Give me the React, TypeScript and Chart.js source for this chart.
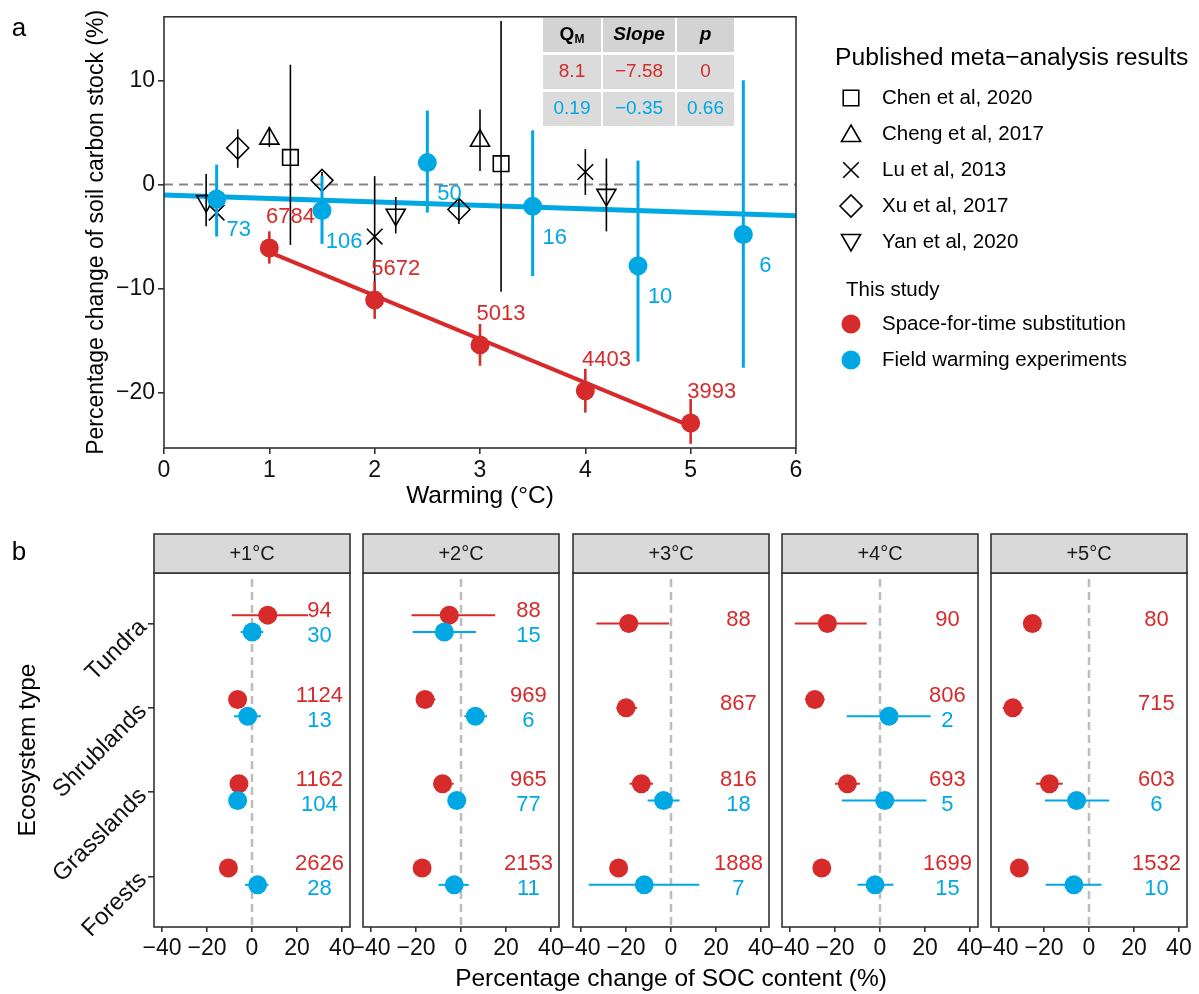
import React, { useEffect, useRef } from 'react';
import { Chart, registerables } from 'chart.js';
import { drawPoint } from 'chart.js/helpers';

Chart.register(...registerables);

const FONT = '"Liberation Sans", Arial, Helvetica, sans-serif';
const RED = '#d62a2b';
const BLUE = '#00a8e3';
const INK = '#111111';

// ---------------- Panel a data ----------------
const sftWarming = [1, 2, 3, 4, 5];
const sftMean = [-6.1, -11.1, -15.4, -19.8, -22.9];
const sftLow = [-7.6, -12.9, -17.4, -21.9, -24.9];
const sftHigh = [-4.5, -9.3, -13.4, -17.7, -20.6];
const sftCount = [6784, 5672, 5013, 4403, 3993];
const sftFitX = [1, 5];
const sftFitY = [-6.5, -23.2];

const fweWarming = [0.5, 1.5, 2.5, 3.5, 4.5, 5.5];
const fweMean = [-1.4, -2.5, 2.1, -2.1, -7.8, -4.8];
const fweLow = [-5.0, -5.7, -2.7, -8.8, -17.0, -17.6];
const fweHigh = [1.9, 0.8, 7.1, 5.2, 2.3, 10.0];
const fweCount = [73, 106, 50, 16, 10, 6];
const fweFitX = [0, 6];
const fweFitY = [-1.0, -3.0];

const studyNames = ['Chen et al, 2020', 'Cheng et al, 2017', 'Lu et al, 2013', 'Xu et al, 2017', 'Yan et al, 2020'];
const chenX = [1.2, 3.2];
const chenY = [2.6, 2.0];
const chenLow = [-5.8, -10.3];
const chenHigh = [11.5, 15.7];
const chengX = [1.0, 3.0];
const chengY = [4.4, 4.2];
const chengLow = [3.6, 1.3];
const chengHigh = [5.5, 7.2];
const luX = [0.5, 2.0, 4.0];
const luY = [-2.7, -5.0, 1.2];
const luLow = [-3.6, -10.6, -1.0];
const luHigh = [-1.8, 0.8, 3.4];
const xuX = [0.7, 1.5, 2.8];
const xuY = [3.5, 0.4, -2.4];
const xuLow = [1.6, -0.4, -3.8];
const xuHigh = [5.3, 1.2, -1.5];
const yanX = [0.4, 2.2, 4.2];
const yanY = [-1.6, -2.9, -1.0];
const yanLow = [-4.0, -4.7, -4.5];
const yanHigh = [1.0, -1.2, 2.5];

const tableHeader = ['Q', 'Slope', 'p'];
const tableSft = ['8.1', '\u22127.58', '0'];
const tableFwe = ['0.19', '\u22120.35', '0.66'];

const warmingTicks = [0, 1, 2, 3, 4, 5, 6];
const stockTicks = [-20, -10, 0, 10];

// ---------------- Panel b data ----------------
const ecosystems = ['Tundra', 'Shrublands', 'Grasslands', 'Forests'];
const warmingLevels = ['+1\u00b0C', '+2\u00b0C', '+3\u00b0C', '+4\u00b0C', '+5\u00b0C'];
const socTicks = [-40, -20, 0, 20, 40];

const sftSoc = [
  [7.0, -6.4, -5.8, -10.5],
  [-5.2, -16.0, -8.2, -17.3],
  [-18.8, -20.0, -13.2, -23.3],
  [-23.4, -29.0, -14.5, -25.9],
  [-25.2, -33.9, -17.6, -31.0],
];
const sftSocLow = [
  [-9.0, -7.8, -7.2, -11.8],
  [-22.0, -20.0, -12.3, -18.8],
  [-33.2, -24.3, -18.4, -24.8],
  [-37.9, -33.3, -20.0, -27.2],
  [-26.6, -38.4, -23.6, -32.4],
];
const sftSocHigh = [
  [25.0, -5.0, -4.4, -9.2],
  [15.2, -11.4, -3.3, -15.8],
  [-0.8, -15.1, -8.0, -21.8],
  [-5.9, -24.6, -8.9, -24.6],
  [-23.8, -29.2, -11.7, -29.6],
];
const sftSocN = [
  [94, 1124, 1162, 2626],
  [88, 969, 965, 2153],
  [88, 867, 816, 1888],
  [90, 806, 693, 1699],
  [80, 715, 603, 1532],
];
const fweSoc = [
  [0.1, -1.9, -6.4, 2.5],
  [-7.4, 6.4, -1.9, -3.0],
  [null, null, -3.3, -11.9],
  [null, 4.0, 2.1, -2.2],
  [null, null, -5.5, -6.7],
];
const fweSocLow = [
  [-5.0, -8.0, -7.6, -3.1],
  [-21.5, 1.5, -3.2, -10.0],
  [null, null, -10.4, -36.6],
  [null, -14.8, -17.0, -10.0],
  [null, null, -19.6, -19.3],
];
const fweSocHigh = [
  [5.0, 3.9, -5.2, 7.3],
  [6.7, 11.6, -0.6, 3.4],
  [null, null, 3.8, 12.6],
  [null, 22.5, 20.7, 6.0],
  [null, null, 9.0, 5.5],
];
const fweSocN = [
  [30, 13, 104, 28],
  [15, 6, 77, 11],
  [null, null, 18, 7],
  [null, 2, 5, 15],
  [null, null, 6, 10],
];

// ---------------- plugins ----------------
const errorBarPlugin = {
  id: 'errorBars',
  beforeDatasetDraw(chart: any, args: any) {
    const ds = chart.data.datasets[args.index];
    if (!ds.errColor) return;
    const xs = chart.scales.x;
    const ys = chart.scales.y;
    const ctx = chart.ctx;
    ctx.save();
    ctx.strokeStyle = ds.errColor;
    ctx.lineWidth = ds.errWidth;
    ctx.lineCap = 'butt';
    ds.data.forEach((p: any) => {
      if (p.lo == null || p.hi == null) return;
      ctx.beginPath();
      if (ds.errHorizontal) {
        const y = ys.getPixelForValue(p.y);
        ctx.moveTo(xs.getPixelForValue(p.lo), y);
        ctx.lineTo(xs.getPixelForValue(p.hi), y);
      } else {
        const x = xs.getPixelForValue(p.x);
        ctx.moveTo(x, ys.getPixelForValue(p.lo));
        ctx.lineTo(x, ys.getPixelForValue(p.hi));
      }
      ctx.stroke();
    });
    ctx.restore();
  },
};

const countLabelPlugin = {
  id: 'countLabels',
  afterDatasetsDraw(chart: any) {
    const xs = chart.scales.x;
    const ys = chart.scales.y;
    const ctx = chart.ctx;
    ctx.save();
    ctx.font = `22px ${FONT}`;
    ctx.textAlign = 'center';
    ctx.textBaseline = 'middle';
    chart.data.datasets.forEach((ds: any) => {
      if (!ds.countColor) return;
      ctx.fillStyle = ds.countColor;
      ds.data.forEach((p: any) => {
        if (p.n == null) return;
        const xv = ds.countX != null ? ds.countX : p.x + ds.countDx;
        const yv = p.y + ds.countDy;
        ctx.fillText(String(p.n), xs.getPixelForValue(xv), ys.getPixelForValue(yv));
      });
    });
    ctx.restore();
  },
};

function drawBox(chart: any) {
  const { left, top, right, bottom } = chart.chartArea;
  const ctx = chart.ctx;
  ctx.save();
  ctx.strokeStyle = '#333333';
  ctx.lineWidth = 1.6;
  ctx.strokeRect(left, top, right - left, bottom - top);
  ctx.restore();
}

const panelAPlugin = {
  id: 'panelA',
  beforeDatasetsDraw(chart: any) {
    const { left, right } = chart.chartArea;
    const y = chart.scales.y.getPixelForValue(0);
    const ctx = chart.ctx;
    ctx.save();
    ctx.strokeStyle = '#8a8484';
    ctx.lineWidth = 2;
    ctx.setLineDash([9, 6]);
    ctx.beginPath();
    ctx.moveTo(left, y);
    ctx.lineTo(right, y);
    ctx.stroke();
    ctx.restore();
  },
  afterDraw(chart: any) {
    const ctx = chart.ctx;
    drawBox(chart);
    ctx.save();
    // panel tag
    ctx.fillStyle = '#000';
    ctx.font = `26px ${FONT}`;
    ctx.textAlign = 'center';
    ctx.textBaseline = 'middle';
    ctx.fillText('a', 19, 29);

    // statistics table
    const colX = [543, 603, 677];
    const colW = [58, 72, 57];
    const rowY = [18, 55, 92];
    const rowH = [34, 34, 34];
    for (let r = 0; r < 3; r++) {
      for (let c = 0; c < 3; c++) {
        ctx.fillStyle = r === 0 ? '#d3d3d3' : '#dbdbdb';
        ctx.fillRect(colX[c], rowY[r], colW[c], rowH[r]);
      }
    }
    ctx.textBaseline = 'middle';
    ctx.textAlign = 'center';
    // header
    ctx.fillStyle = '#000';
    const hy = rowY[0] + rowH[0] / 2;
    ctx.font = `bold 19px ${FONT}`;
    const qW = ctx.measureText(tableHeader[0]).width;
    ctx.font = `bold 12px ${FONT}`;
    const mW = ctx.measureText('M').width;
    const qStart = colX[0] + colW[0] / 2 - (qW + mW) / 2;
    ctx.textAlign = 'left';
    ctx.font = `bold 19px ${FONT}`;
    ctx.fillText(tableHeader[0], qStart, hy);
    ctx.font = `bold 12px ${FONT}`;
    ctx.fillText('M', qStart + qW, hy + 5);
    ctx.textAlign = 'center';
    ctx.font = `italic bold 19px ${FONT}`;
    ctx.fillText(tableHeader[1], colX[1] + colW[1] / 2, hy);
    ctx.fillText(tableHeader[2], colX[2] + colW[2] / 2, hy);
    ctx.font = `19px ${FONT}`;
    ctx.fillStyle = RED;
    tableSft.forEach((t, c) => ctx.fillText(t, colX[c] + colW[c] / 2, rowY[1] + rowH[1] / 2));
    ctx.fillStyle = BLUE;
    tableFwe.forEach((t, c) => ctx.fillText(t, colX[c] + colW[c] / 2, rowY[2] + rowH[2] / 2));

    // legend
    ctx.textAlign = 'left';
    ctx.fillStyle = '#000';
    ctx.font = `24.7px ${FONT}`;
    ctx.fillText('Published meta\u2212analysis results', 835, 58);
    const styles = [
      { pointStyle: 'rect', rotation: 0 },
      { pointStyle: 'triangle', rotation: 0 },
      { pointStyle: 'crossRot', rotation: 0 },
      { pointStyle: 'rectRot', rotation: 0 },
      { pointStyle: 'triangle', rotation: 180 },
    ];
    const legY = [98, 134, 170, 206, 242];
    ctx.font = `20.5px ${FONT}`;
    studyNames.forEach((name, i) => {
      ctx.save();
      ctx.strokeStyle = '#000';
      ctx.fillStyle = 'rgba(0,0,0,0)';
      ctx.lineWidth = 1.6;
      const yy = legY[i] + (i === 1 ? 2 : i === 4 ? -2 : 0);
      drawPoint(ctx, { pointStyle: styles[i].pointStyle, rotation: styles[i].rotation, radius: 11, borderWidth: 1.6 } as any, 851, yy);
      ctx.restore();
      ctx.fillStyle = '#000';
      ctx.fillText(name, 882, legY[i]);
    });
    ctx.fillText('This study', 846, 290);
    const studyLeg = [
      { c: RED, t: 'Space-for-time substitution', y: 324 },
      { c: BLUE, t: 'Field warming experiments', y: 360 },
    ];
    studyLeg.forEach((s) => {
      ctx.fillStyle = s.c;
      ctx.beginPath();
      ctx.arc(851, s.y, 9.5, 0, Math.PI * 2);
      ctx.fill();
      ctx.fillStyle = '#000';
      ctx.fillText(s.t, 882, s.y);
    });
    ctx.restore();
  },
};

const tickFont = { family: FONT, size: 23 };
const titleFont = { family: FONT, size: 24.5, lineHeight: 1.2 };

function PanelA() {
  const ref = useRef<HTMLCanvasElement | null>(null);
  useEffect(() => {
    const canvas = ref.current;
    if (!canvas) return;
    const pts = (xs: number[], ys: number[], lo: number[], hi: number[], n?: number[]) =>
      xs.map((x, i) => ({ x, y: ys[i], lo: lo[i], hi: hi[i], n: n ? n[i] : undefined }));
    const studyDs = (label: string, style: string, rot: number, xs: number[], ys: number[], lo: number[], hi: number[]) => ({
      label,
      data: pts(xs, ys, lo, hi),
      pointStyle: style,
      pointRotation: rot,
      pointRadius: 11,
      pointHoverRadius: 11,
      pointBorderColor: '#000',
      pointBackgroundColor: 'rgba(0,0,0,0)',
      pointBorderWidth: 1.6,
      errColor: '#000',
      errWidth: 1.6,
      showLine: false,
      order: 5,
    });
    const chart = new Chart(canvas, {
      type: 'scatter',
      data: {
        datasets: [
          {
            label: 'Space-for-time substitution',
            data: pts(sftWarming, sftMean, sftLow, sftHigh, sftCount),
            pointRadius: 9.5,
            pointBackgroundColor: RED,
            pointBorderWidth: 0,
            errColor: RED,
            errWidth: 2.6,
            countColor: RED,
            countDx: 0.2,
            countDy: 3,
            order: 1,
          },
          {
            label: 'Field warming experiments',
            data: pts(fweWarming, fweMean, fweLow, fweHigh, fweCount),
            pointRadius: 9.5,
            pointBackgroundColor: BLUE,
            pointBorderWidth: 0,
            errColor: BLUE,
            errWidth: 3,
            countColor: BLUE,
            countDx: 0.21,
            countDy: -3,
            order: 1,
          },
          studyDs(studyNames[0], 'rect', 0, chenX, chenY, chenLow, chenHigh),
          studyDs(studyNames[1], 'triangle', 0, chengX, chengY, chengLow, chengHigh),
          studyDs(studyNames[2], 'crossRot', 0, luX, luY, luLow, luHigh),
          studyDs(studyNames[3], 'rectRot', 0, xuX, xuY, xuLow, xuHigh),
          studyDs(studyNames[4], 'triangle', 180, yanX, yanY, yanLow, yanHigh),
          {
            label: 'Space-for-time fit',
            data: sftFitX.map((x, i) => ({ x, y: sftFitY[i] })),
            showLine: true,
            borderColor: RED,
            borderWidth: 4,
            pointRadius: 0,
            order: 10,
          },
          {
            label: 'Field warming fit',
            data: fweFitX.map((x, i) => ({ x, y: fweFitY[i] })),
            showLine: true,
            borderColor: BLUE,
            borderWidth: 5,
            pointRadius: 0,
            order: 10,
          },
        ] as any,
      },
      options: {
        responsive: false,
        animation: false,
        devicePixelRatio: 1,
        events: [],
        layout: { padding: { left: 0, top: 13, right: 403, bottom: 0 } },
        plugins: { legend: { display: false }, tooltip: { enabled: false } },
        scales: {
          x: {
            type: 'linear',
            min: 0,
            max: 6,
            afterBuildTicks: (s: any) => { s.ticks = warmingTicks.map((v) => ({ value: v })); },
            afterFit: (s: any) => { s.height = 72; },
            ticks: { font: tickFont, color: INK, padding: 3 },
            grid: { drawOnChartArea: false, drawTicks: true, tickLength: 6, color: '#333', lineWidth: 1.6 },
            border: { display: false },
            title: { display: true, text: 'Warming (\u00b0C)', font: titleFont, color: '#000', padding: { top: 0, bottom: 9 } },
          },
          y: {
            type: 'linear',
            min: -25.3,
            max: 16.1,
            afterBuildTicks: (s: any) => { s.ticks = stockTicks.map((v) => ({ value: v })); },
            afterFit: (s: any) => { s.width = 164; },
            ticks: {
              font: tickFont,
              color: INK,
              padding: 3,
              callback: (v: any) => (v < 0 ? '\u2212' + Math.abs(v) : String(v)),
            },
            grid: { drawOnChartArea: false, drawTicks: true, tickLength: 6, color: '#333', lineWidth: 1.6 },
            border: { display: false },
            title: {
              display: true,
              text: 'Percentage change of soil carbon stock (%)',
              font: { family: FONT, size: 23, lineHeight: 1.2 },
              color: '#000',
              padding: { top: 83, bottom: 0 },
            },
          },
        },
      } as any,
      plugins: [errorBarPlugin, countLabelPlugin, panelAPlugin],
    });
    return () => chart.destroy();
  }, []);
  return (
    <canvas
      ref={ref}
      width={1199}
      height={520}
      style={{ position: 'absolute', left: 0, top: 0, width: 1199, height: 520, display: 'block' }}
    />
  );
}

const FACET_LEFT0 = 154;
const FACET_W = 196;
const FACET_GAP = 13.3;
const FACET_TOP = 520;
const FACET_H = 474;
const socTitle = 'Percentage change of SOC content (%)';

function Facet({ idx }: { idx: number }) {
  const ref = useRef<HTMLCanvasElement | null>(null);
  const panelLeft = Math.round(FACET_LEFT0 + idx * (FACET_W + FACET_GAP));
  const padL = idx === 0 ? 0 : 45;
  const padR = 11;
  const canvasLeft = idx === 0 ? 0 : panelLeft - padL;
  const leftSpace = idx === 0 ? panelLeft : padL;
  const width = Math.round(leftSpace + FACET_W + padR);
  const isMiddle = idx === 2;
  // middle facet canvas is widened so the shared axis title fits
  const extra = isMiddle ? 260 : 0;

  useEffect(() => {
    const canvas = ref.current;
    if (!canvas) return;
    const build = (means: any[][], lows: any[][], highs: any[][], ns: any[][], other: any[][], shift: number) =>
      ecosystems
        .map((_, e) => {
          const m = means[idx][e];
          if (m == null) return null;
          return {
            x: m,
            y: e + 1 + (other[idx][e] == null ? 0 : shift),
            lo: lows[idx][e],
            hi: highs[idx][e],
            n: ns[idx][e],
          };
        })
        .filter((p) => p !== null);

    const stripPlugin = {
      id: 'strip' + idx,
      beforeDatasetsDraw(chart: any) {
        const { top, bottom } = chart.chartArea;
        const x = chart.scales.x.getPixelForValue(0);
        const ctx = chart.ctx;
        ctx.save();
        ctx.strokeStyle = '#bdbdbd';
        ctx.lineWidth = 2.5;
        ctx.setLineDash([8, 5]);
        ctx.beginPath();
        ctx.moveTo(x, top + 6);
        ctx.lineTo(x, bottom);
        ctx.stroke();
        ctx.restore();
      },
      afterDraw(chart: any) {
        const { left, right, top } = chart.chartArea;
        const ctx = chart.ctx;
        drawBox(chart);
        ctx.save();
        ctx.fillStyle = '#d9d9d9';
        ctx.fillRect(left, 14, right - left, top - 14);
        ctx.strokeStyle = '#333333';
        ctx.lineWidth = 1.6;
        ctx.strokeRect(left, 14, right - left, top - 14);
        ctx.fillStyle = '#1a1a1a';
        ctx.font = `20px ${FONT}`;
        ctx.textAlign = 'center';
        ctx.textBaseline = 'middle';
        ctx.fillText(warmingLevels[idx], (left + right) / 2, (14 + top) / 2 + 1);
        if (idx === 0) {
          ctx.fillStyle = '#000';
          ctx.font = `26px ${FONT}`;
          ctx.fillText('b', 19, 33);
        }
        if (isMiddle) {
          ctx.fillStyle = '#000';
          ctx.font = `24.5px ${FONT}`;
          ctx.fillText(socTitle, (left + right) / 2, FACET_H - 15);
        }
        ctx.restore();
      },
    };

    const chart = new Chart(canvas, {
      type: 'scatter',
      data: {
        datasets: [
          {
            label: 'Space-for-time substitution',
            data: build(sftSoc, sftSocLow, sftSocHigh, sftSocN, fweSoc, -0.1),
            pointRadius: 9.5,
            pointBackgroundColor: RED,
            pointBorderWidth: 0,
            errColor: RED,
            errWidth: 2,
            errHorizontal: true,
            countColor: RED,
            countX: 30,
            countDy: -0.045,
            order: 2,
          },
          {
            label: 'Field warming experiments',
            data: build(fweSoc, fweSocLow, fweSocHigh, fweSocN, sftSoc, 0.1),
            pointRadius: 9.5,
            pointBackgroundColor: BLUE,
            pointBorderWidth: 0,
            errColor: BLUE,
            errWidth: 2,
            errHorizontal: true,
            countColor: BLUE,
            countX: 30,
            countDy: 0.05,
            order: 1,
          },
        ] as any,
      },
      options: {
        responsive: false,
        animation: false,
        devicePixelRatio: 1,
        events: [],
        layout: { padding: { left: (idx === 0 ? 0 : padL) + extra, top: 53, right: padR + extra, bottom: 0 } },
        plugins: { legend: { display: false }, tooltip: { enabled: false } },
        scales: {
          x: {
            type: 'linear',
            min: -43.6,
            max: 43.6,
            afterBuildTicks: (s: any) => { s.ticks = socTicks.map((v) => ({ value: v })); },
            afterFit: (s: any) => { s.height = 67; },
            ticks: {
              font: tickFont,
              color: INK,
              padding: 3,
              maxRotation: 0,
              minRotation: 0,
              autoSkip: false,
              callback: (v: any) => (v < 0 ? '\u2212' + Math.abs(v) : String(v)),
            },
            grid: { drawOnChartArea: false, drawTicks: true, tickLength: 5, color: '#333', lineWidth: 1.6 },
            border: { display: false },
          },
          y: {
            type: 'linear',
            display: idx === 0,
            min: 0.4,
            max: 4.6,
            reverse: true,
            afterBuildTicks: (s: any) => { s.ticks = ecosystems.map((_, i) => ({ value: i + 1 })); },
            afterFit: (s: any) => { s.width = idx === 0 ? FACET_LEFT0 : 0; },
            ticks: {
              font: { family: FONT, size: 24 },
              color: INK,
              padding: 5,
              minRotation: 45,
              maxRotation: 45,
              autoSkip: false,
              callback: (v: any) => ecosystems[Math.round(v) - 1],
            },
            grid: { drawOnChartArea: false, drawTicks: true, tickLength: 6, color: '#333', lineWidth: 1.6 },
            border: { display: false },
            title: {
              display: idx === 0,
              text: 'Ecosystem type',
              font: titleFont,
              color: '#000',
              padding: { top: 14, bottom: 0 },
            },
          },
        },
      } as any,
      plugins: [errorBarPlugin, countLabelPlugin, stripPlugin],
    });
    return () => chart.destroy();
  }, [idx]);

  const w = width + 2 * extra;
  return (
    <canvas
      ref={ref}
      width={w}
      height={FACET_H}
      style={{ position: 'absolute', left: canvasLeft - extra, top: FACET_TOP, width: w, height: FACET_H, display: 'block' }}
    />
  );
}

export default function App() {
  return (
    <div
      style={{
        position: 'absolute',
        left: 0,
        top: 0,
        width: 1199,
        height: 994,
        overflow: 'hidden',
        background: '#ffffff',
      }}
    >
      <PanelA />
      {warmingLevels.map((_, i) => (
        <Facet key={i} idx={i} />
      ))}
    </div>
  );
}
